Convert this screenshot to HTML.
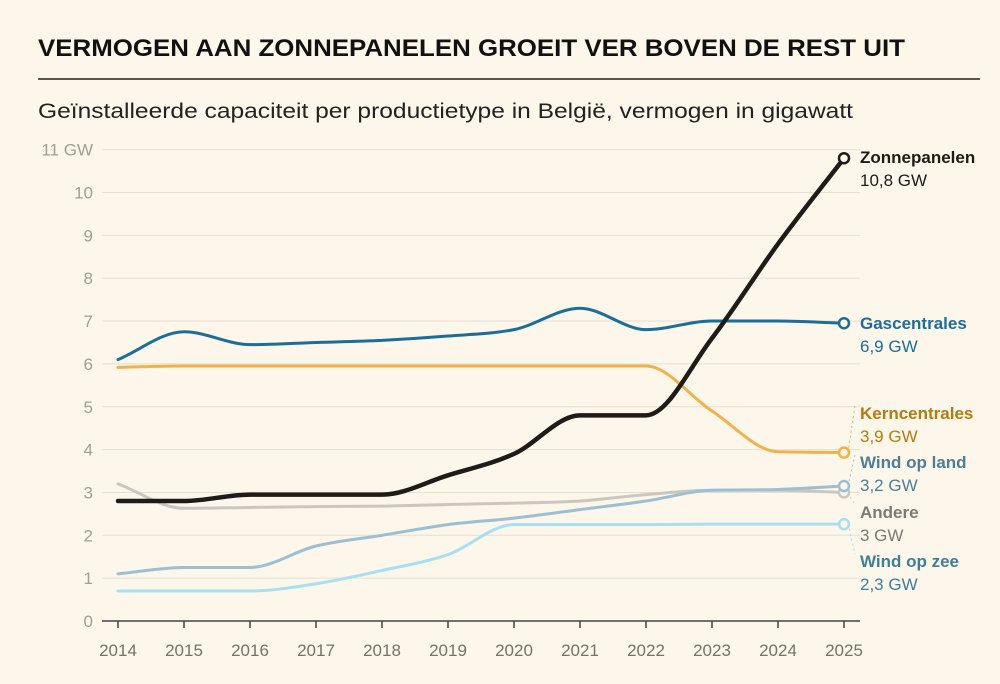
<!DOCTYPE html>
<html><head><meta charset="utf-8"><style>
html,body{margin:0;padding:0;background:#fdf6ea;}
svg{display:block;font-family:"Liberation Sans",sans-serif;}
</style></head><body>
<svg id="chart" width="1000" height="684" viewBox="0 0 1000 684">
<rect width="1000" height="684" fill="#fdf6ea"/>
<text x="38" y="56" font-size="24" font-weight="bold" fill="#111" textLength="867" lengthAdjust="spacingAndGlyphs">VERMOGEN AAN ZONNEPANELEN GROEIT VER BOVEN DE REST UIT</text>
<line x1="38" y1="79" x2="980" y2="79" stroke="#222" stroke-width="1.5"/>
<text x="38" y="118" font-size="21" fill="#222" textLength="815" lengthAdjust="spacingAndGlyphs">Geïnstalleerde capaciteit per productietype in België, vermogen in gigawatt</text>
<g id="grid"></g><g id="lines"></g><g id="labels"></g>
</svg>
<script>
const years=[2014,2015,2016,2017,2018,2019,2020,2021,2022,2023,2024,2025];
const zon=[2.8,2.8,2.95,2.95,2.95,3.4,3.9,4.8,4.8,6.6,8.8,10.8];
const gas=[6.1,6.75,6.45,6.5,6.55,6.65,6.8,7.3,6.8,7.0,7.0,6.95];
const kern=[5.92,5.95,5.95,5.95,5.95,5.95,5.95,5.95,5.95,4.9,3.95,3.93];
const windLand=[1.1,1.25,1.25,1.75,2.0,2.25,2.4,2.6,2.8,3.05,3.07,3.15];
const andere=[3.2,2.63,2.65,2.67,2.68,2.72,2.75,2.8,2.95,3.05,3.05,3.0];
const windZee=[0.7,0.7,0.7,0.87,1.18,1.55,2.25,2.25,2.25,2.26,2.26,2.26];
const yTicks=[0,1,2,3,4,5,6,7,8,9,10,11];
const NS="http://www.w3.org/2000/svg";
const x=v=>118+(v-2014)*66;
const y=v=>621-v*42.85;
function mk(tag,attrs,parent,txt){const e=document.createElementNS(NS,tag);for(const k in attrs)e.setAttribute(k,attrs[k]);if(txt!==undefined)e.textContent=txt;parent.appendChild(e);return e;}
const grid=document.getElementById('grid'),lines=document.getElementById('lines'),labels=document.getElementById('labels');
yTicks.forEach(t=>{
  if(t>0){const g=mk('line',{x1:102,x2:860,y1:y(t),y2:y(t),stroke:'#e6dfd2','stroke-width':1},grid);
  
  }
  const tl=mk('text',{x:93,y:y(t)+6,'font-size':17,fill:'#a39e95','text-anchor':'end'},grid,t===11?'11 GW':String(t));
  
  
});
const ax=mk('line',{x1:102,x2:860,y1:621,y2:621,stroke:'#444','stroke-width':1.5},grid);


years.forEach(yr=>{
  const tk=mk('line',{x1:x(yr),x2:x(yr),y1:621,y2:628,stroke:'#444','stroke-width':1.5},grid);
  
  
  const tl=mk('text',{x:x(yr),y:656,'font-size':17,fill:'#77726a','text-anchor':'middle'},grid,String(yr));
  
  
});
function monoPath(xs,ys){
  const n=xs.length,dx=[],m=[],t=[];
  for(let i=0;i<n-1;i++){dx[i]=xs[i+1]-xs[i];m[i]=(ys[i+1]-ys[i])/dx[i];}
  t[0]=m[0];t[n-1]=m[n-2];
  for(let i=1;i<n-1;i++){if(m[i-1]*m[i]<=0)t[i]=0;else{const h0=dx[i-1],h1=dx[i];const p=(m[i-1]*h1+m[i]*h0)/(h0+h1);t[i]=(Math.sign(m[i-1])+Math.sign(m[i]))*Math.min(Math.abs(m[i-1]),Math.abs(m[i]),0.5*Math.abs(p));}}
  let d='M'+xs[0]+','+ys[0];
  for(let i=0;i<n-1;i++){const h=dx[i]/3;d+='C'+(xs[i]+h)+','+(ys[i]+t[i]*h)+' '+(xs[i+1]-h)+','+(ys[i+1]-t[i+1]*h)+' '+xs[i+1]+','+ys[i+1];}
  return d;
}
const series=[
 {name:'andere',vals:andere,c:'#cbc7c0',w:3,lab:'Andere',val:'3 GW',lc:'#7d7a75',ly:513},
 {name:'wind-op-zee',vals:windZee,c:'#a8e0f2',w:3,lab:'Wind op zee',val:'2,3 GW',lc:'#3d7f99',ly:562},
 {name:'wind-op-land',vals:windLand,c:'#9dbfd4',w:3,lab:'Wind op land',val:'3,2 GW',lc:'#4d7e9a',ly:463},
 {name:'kerncentrales',vals:kern,c:'#f0b34a',w:3,lab:'Kerncentrales',val:'3,9 GW',lc:'#b57a10',ly:414},
 {name:'gascentrales',vals:gas,c:'#1c6e9a',w:3,lab:'Gascentrales',val:'6,9 GW',lc:'#1c6e9a',ly:324},
 {name:'zonnepanelen',vals:zon,c:'#1e1b18',w:4.5,lab:'Zonnepanelen',val:'10,8 GW',lc:'#1e1b18',ly:158}
];
series.forEach(s=>{
  const p=mk('path',{d:monoPath(years.map(x),s.vals.map(y)),fill:'none',stroke:s.c,'stroke-width':s.w,'stroke-linecap':'round'},lines);
  
  
  const ex=x(2025),ey=y(s.vals[s.vals.length-1]);
  if(Math.abs(ey-(s.ly-6))>14){
    const l=mk('line',{x1:ex+4,y1:ey,x2:855,y2:s.ly-8,stroke:s.c,'stroke-width':1,'stroke-dasharray':'2,3'},labels);
    
    
  }
  const c=mk('circle',{cx:ex,cy:ey,r:5,fill:'#fdf6ea',stroke:s.c,'stroke-width':2.5},lines);
  
  
  const t1=mk('text',{x:860,y:s.ly+5,'font-size':17,'font-weight':'bold',fill:s.lc},labels,s.lab);
  
  
  const t2=mk('text',{x:860,y:s.ly+28,'font-size':17,fill:s.lc},labels,s.val);
  
  
});
</script>
</body></html>
